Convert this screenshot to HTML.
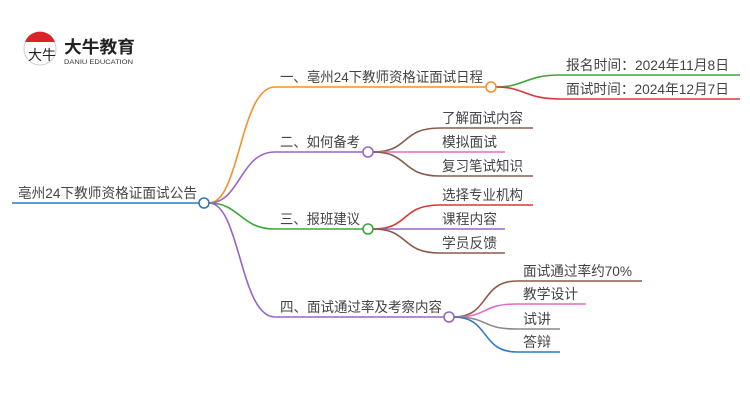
<!DOCTYPE html>
<html><head><meta charset="utf-8"><style>
body{margin:0;background:#fff;}
svg text{font-family:"Liberation Sans","Noto Sans CJK SC",sans-serif;font-size:14px;fill:#444;}
</style></head><body>
<svg width="750" height="410" xmlns="http://www.w3.org/2000/svg">
<!-- logo -->
<circle cx="40" cy="49" r="16" fill="#fff" stroke="#ccc" stroke-width="1"/>
<path d="M25 42 A16 16 0 0 1 55 42 Z" fill="#d8232a"/>
<text x="28" y="60" style="font-size:14px;fill:#222;">大牛</text>
<text x="64" y="53" textLength="71" lengthAdjust="spacingAndGlyphs" style="font-size:17px;font-weight:bold;fill:#222">大牛教育</text>
<text x="64" y="64" textLength="69" lengthAdjust="spacingAndGlyphs" style="font-size:6px;fill:#333">DANIU EDUCATION</text>
<g fill="none" stroke-width="1.6">
<line x1="12" y1="203" x2="199" y2="203" stroke="#2f79c0"/>
<path d="M209 203 C240 203 240 87 275 87 L486 87" stroke="#f7902d"/>
<path d="M209 203 C240 203 240 152 275 152 L363 152" stroke="#9a63c7"/>
<path d="M209 203 C240 203 240 229 275 229 L363 229" stroke="#3aa83a"/>
<path d="M209 203 C240 203 240 317 275 317 L444 317" stroke="#9a63c7"/>
<path d="M496 87 C525 87 525 75 560 75 L740 75" stroke="#3aa83a"/>
<path d="M496 87 C525 87 525 99 560 99 L740 99" stroke="#d8363a"/>
<path d="M373 152 C410 152 400 128 440 128 L533 128" stroke="#8b5a4a"/>
<path d="M373 152 L505 152" stroke="#e86ac4"/>
<path d="M373 152 C410 152 400 176 440 176 L533 176" stroke="#8b5a4a"/>
<path d="M373 229 C410 229 400 205 440 205 L533 205" stroke="#d8363a"/>
<path d="M373 229 L505 229" stroke="#9a63c7"/>
<path d="M373 229 C410 229 400 253 440 253 L505 253" stroke="#8b5a4a"/>
<path d="M454 317 C490 317 480 281 517 281 L642 281" stroke="#8b5a4a"/>
<path d="M454 317 C490 317 480 304 517 304 L586 304" stroke="#e86ac4"/>
<path d="M454 317 C490 317 480 329 517 329 L560 329" stroke="#888"/>
<path d="M454 317 C490 317 480 352 517 352 L560 352" stroke="#2f79c0"/>
</g>
<g fill="#fff" stroke-width="1.6">
<circle cx="204" cy="203" r="5" stroke="#2f79c0"/>
<circle cx="491" cy="87" r="5" stroke="#f7902d"/>
<circle cx="368" cy="152" r="5" stroke="#9a63c7"/>
<circle cx="368" cy="229" r="5" stroke="#3aa83a"/>
<circle cx="449" cy="317" r="5" stroke="#9a63c7"/>
</g>
<g style="" >
<text x="18" y="198" textLength="179" lengthAdjust="spacingAndGlyphs">亳州24下教师资格证面试公告</text>
<text x="280" y="82" textLength="203" lengthAdjust="spacingAndGlyphs">一、亳州24下教师资格证面试日程</text>
<text x="280" y="147" textLength="80" lengthAdjust="spacingAndGlyphs">二、如何备考</text>
<text x="280" y="224" textLength="80" lengthAdjust="spacingAndGlyphs">三、报班建议</text>
<text x="280" y="312" textLength="162" lengthAdjust="spacingAndGlyphs">四、面试通过率及考察内容</text>
<text x="566" y="70" textLength="163" lengthAdjust="spacingAndGlyphs">报名时间：2024年11月8日</text>
<text x="566" y="94" textLength="163" lengthAdjust="spacingAndGlyphs">面试时间：2024年12月7日</text>
<text x="442" y="123" textLength="81" lengthAdjust="spacingAndGlyphs">了解面试内容</text>
<text x="442" y="147" textLength="55" lengthAdjust="spacingAndGlyphs">模拟面试</text>
<text x="442" y="171" textLength="81" lengthAdjust="spacingAndGlyphs">复习笔试知识</text>
<text x="442" y="200" textLength="81" lengthAdjust="spacingAndGlyphs">选择专业机构</text>
<text x="442" y="224" textLength="55" lengthAdjust="spacingAndGlyphs">课程内容</text>
<text x="442" y="248" textLength="55" lengthAdjust="spacingAndGlyphs">学员反馈</text>
<text x="523" y="276" textLength="109" lengthAdjust="spacingAndGlyphs">面试通过率约70%</text>
<text x="523" y="299" textLength="55" lengthAdjust="spacingAndGlyphs">教学设计</text>
<text x="523" y="324" textLength="28" lengthAdjust="spacingAndGlyphs">试讲</text>
<text x="523" y="347" textLength="28" lengthAdjust="spacingAndGlyphs">答辩</text>
</g>
</svg>
</body></html>
